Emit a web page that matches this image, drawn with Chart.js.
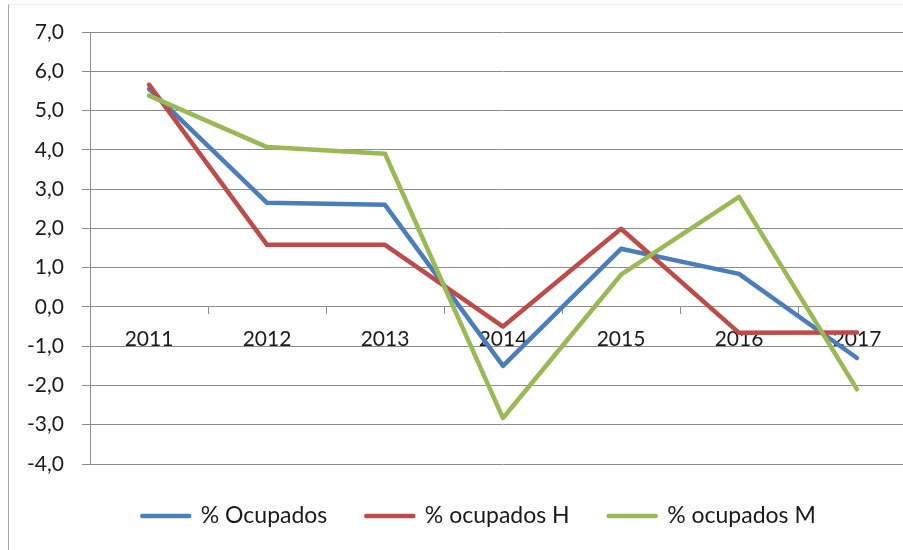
<!DOCTYPE html>
<html>
<head>
<meta charset="utf-8">
<script src="https://cdn.jsdelivr.net/npm/chart.js@4.4.1/dist/chart.umd.min.js"></script>
<style>
  html, body { margin: 0; padding: 0; background: #fff; overflow: hidden; width: 903px; height: 550px; }
  #marco { position: absolute; left: 8px; top: 4px; width: 900px; height: 560px;
           border-left: 1px solid #a6a6a6; border-top: 1px solid #ececec; }
  #wrap { position: absolute; left: 0; top: 0; width: 920px; height: 536px; }
</style>
</head>
<body>
<div id="marco"></div>
<div id="wrap"><canvas id="chart"></canvas></div>
<script>
// ---- DATOS ----
var ANIOS = ["2011", "2012", "2013", "2014", "2015", "2016", "2017"];
var OCUPADOS   = [5.55, 2.65, 2.6, -1.5, 1.48, 0.84, -1.3];
var OCUPADOS_H = [5.66, 1.58, 1.58, -0.5, 1.99, -0.66, -0.65];
var OCUPADOS_M = [5.38, 4.07, 3.9, -2.83, 0.82, 2.8, -2.1];
var Y_MIN = -4, Y_MAX = 7;

var COLORS = { ocu: "#4a7ebb", h: "#be4b48", m: "#98b954" };
var GRIS = "#8c8c8c";
var FUENTE = "Lato";

function fmtComa(v) { return v.toFixed(1).replace(".", ","); }

function serie(label, data, color, orden) {
  return {
    label: label,
    data: data,
    borderColor: color,
    backgroundColor: color,
    borderWidth: 4.5,
    borderCapStyle: "round",
    borderJoinStyle: "round",
    pointRadius: 0,
    tension: 0,
    order: orden
  };
}

// mueve la leyenda para que quede como en el original
var legendShift = {
  id: "legendShift",
  afterLayout: function(chart) {
    var l = chart.legend;
    l.left += 21; l.right += 21;
    l.top += 1.5; l.bottom += 1.5;
  }
};

new Chart(document.getElementById("chart"), {
  type: "line",
  data: {
    labels: ANIOS,
    datasets: [
      serie("% Ocupados", OCUPADOS, COLORS.ocu, 2),
      serie("% ocupados H", OCUPADOS_H, COLORS.h, 1),
      serie("% ocupados M", OCUPADOS_M, COLORS.m, 0)
    ]
  },
  options: {
    responsive: true,
    maintainAspectRatio: false,
    animation: false,
    layout: { padding: { top: 32, right: 4, left: 0, bottom: 0 } },
    plugins: {
      tooltip: { enabled: false },
      legend: {
        position: "bottom",
        labels: {
          color: "#1a1a1a",
          font: { size: 23, family: FUENTE },
          boxWidth: 47,
          boxHeight: 0,
          padding: 39,
          sort: function(a, b) { return a.datasetIndex - b.datasetIndex; }
        }
      }
    },
    scales: {
      x: {
        type: "category",
        position: { y: 0 },
        offset: true,
        grid: { offset: true, drawOnChartArea: false, drawTicks: true, tickLength: 7, color: GRIS },
        border: { display: true, color: GRIS, width: 1 },
        ticks: { color: "#1a1a1a", font: { size: 21, family: FUENTE }, padding: 13, maxRotation: 0 }
      },
      y: {
        min: Y_MIN,
        max: Y_MAX,
        afterFit: function(scale) { scale.width = 90; },
        grid: { color: GRIS, lineWidth: 1, drawTicks: true, tickLength: 8 },
        border: { display: true, color: GRIS, width: 1 },
        ticks: {
          stepSize: 1,
          padding: 18,
          color: "#1a1a1a",
          font: { size: 21, family: FUENTE },
          callback: function(v) { return fmtComa(v); }
        }
      }
    }
  },
  plugins: [legendShift]
});
</script>
</body>
</html>
